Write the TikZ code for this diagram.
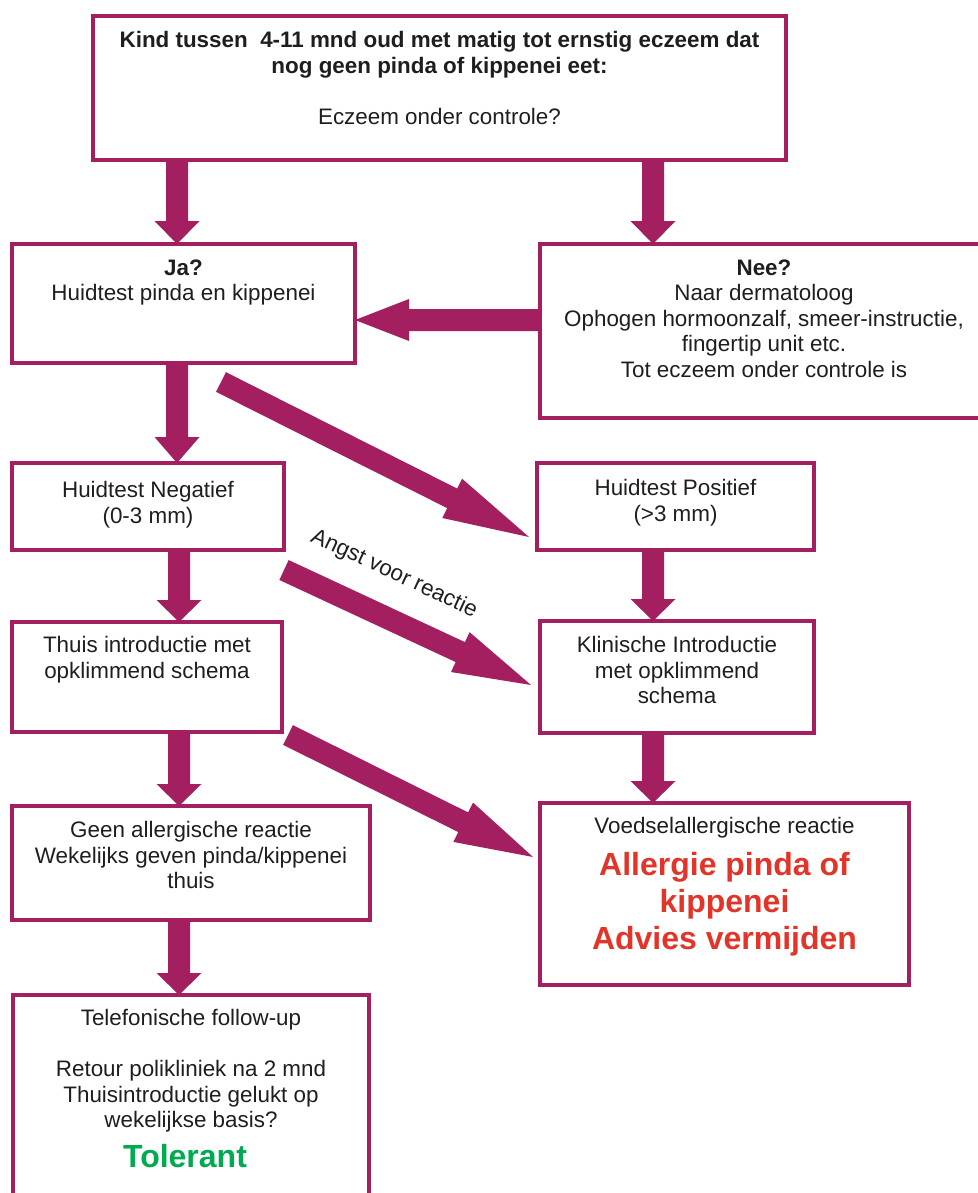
\documentclass[tikz,border=0pt]{standalone}
\usepackage{fontspec}
\setmainfont{Liberation Sans}
\usetikzlibrary{calc}
\definecolor{maroon}{RGB}{163,31,96}
\definecolor{redtxt}{RGB}{226,52,40}
\definecolor{greentxt}{RGB}{0,170,80}
\definecolor{txtcol}{RGB}{30,30,30}
\newcommand{\blockarr}[5]{%
  \coordinate (bA) at (#1);
  \coordinate (bB) at (#2);
  \coordinate (bP) at ($(bB)!#5!(bA)$);
  \fill[arrowfill] ($(bA)!#3!90:(bB)$) -- ($(bP)!#3!90:(bB)$) -- ($(bP)!#4!90:(bB)$) -- (bB)
    -- ($(bP)!#4!-90:(bB)$) -- ($(bP)!#3!-90:(bB)$) -- ($(bA)!#3!-90:(bB)$) -- cycle;
}
\begin{document}
\begin{tikzpicture}[x=0.5pt, y=-0.5pt,
  box/.style={draw=maroon, line width=2pt, inner sep=0pt, outer sep=0pt},
  arrowfill/.style={fill=maroon},
  txtnode/.style={font=\fontsize{11.2pt}{12.75pt}\selectfont, align=center, inner sep=0pt, text=txtcol},
  bigred/.style={font=\fontsize{16pt}{18.5pt}\selectfont\bfseries, align=center, inner sep=0pt, text=redtxt},
  biggreen/.style={font=\fontsize{16pt}{18.5pt}\selectfont\bfseries, inner sep=0pt, text=greentxt}]
\useasboundingbox (0,0) rectangle (978,1193);
\clip (0,0) rectangle (978,1193);

% boxes
\node[box, minimum width=346.5pt, minimum height=72pt] (top) at (439.5,88) {};
\node[box, minimum width=171.5pt, minimum height=59.5pt] (ja) at (183.5,303.5) {};
\node[box, minimum width=224pt, minimum height=87pt] (nee) at (764,331) {};
\node[box, minimum width=136pt, minimum height=43.5pt] (neg) at (148,506.5) {};
\node[box, minimum width=138.5pt, minimum height=43.5pt] (pos) at (675.5,506.5) {};
\node[box, minimum width=135pt, minimum height=55pt] (thuis) at (147,677) {};
\node[box, minimum width=137pt, minimum height=56pt] (klin) at (677,677) {};
\node[box, minimum width=179pt, minimum height=57pt] (geen) at (191,863) {};
\node[box, minimum width=184.5pt, minimum height=91pt] (voed) at (724.5,894) {};
\node[box, minimum width=178pt, minimum height=107.5pt] (tel) at (191,1102.5) {};

% texts
\node[txtnode, anchor=north] (toptxt) at (439.5,31)
  {\textbf{Kind tussen\ \ 4-11 mnd oud met matig tot ernstig eczeem dat}\\
   \textbf{nog geen pinda of kippenei eet:}\\[12.75pt]
   Eczeem onder controle?};
\node[txtnode, anchor=north] (jatxt) at (183.5,259)
  {\textbf{Ja?}\\Huidtest pinda en kippenei};
\node[txtnode, anchor=north] (neetxt) at (764,259)
  {\textbf{Nee?}\\Naar dermatoloog\\Ophogen hormoonzalf, smeer-instructie,\\fingertip unit etc.\\Tot eczeem onder controle is};
\node[txtnode, anchor=north] (negtxt) at (148,481)
  {Huidtest Negatief\\(0-3 mm)};
\node[txtnode, anchor=north] (postxt) at (675.5,479)
  {Huidtest Positief\\(>3 mm)};
\node[txtnode, anchor=north] (thuistxt) at (147,636)
  {Thuis introductie met\\opklimmend schema};
\node[txtnode, anchor=north] (klintxt) at (677,636)
  {Klinische Introductie\\met opklimmend\\schema};
\node[txtnode, anchor=north] (geentxt) at (191,821)
  {Geen allergische reactie\\Wekelijks geven pinda/kippenei\\thuis};
\node[txtnode, anchor=base] (voedtxt) at (724.5,833) {Voedselallergische reactie};
\node[bigred, anchor=north] (allergie) at (724.5,852)
  {Allergie pinda of\\kippenei\\Advies vermijden};
\node[txtnode, anchor=north] (teltxt) at (191,1009)
  {Telefonische follow-up\\[12.75pt]
   Retour polikliniek na 2 mnd\\Thuisintroductie gelukt op\\wekelijkse basis?};
\node[biggreen, anchor=base] (tolerant) at (185,1167) {Tolerant};
\node[txtnode, rotate=-25] (angst) at (394,574) {Angst voor reactie};

% helper coordinates
\coordinate (colA) at (177,0);
\coordinate (colC) at (179,0);
\coordinate (colB) at (653,0);
\coordinate (rowH) at (0,320);
\coordinate (d1s) at (221,382);
\coordinate (d1e) at (529,537);
\coordinate (d2s) at (284,570);
\coordinate (d2e) at (531,685);
\coordinate (d3s) at (288,735);
\coordinate (d3e) at (533,857);

% arrows
\blockarr{top.south -| colA}{ja.north -| colA}{5.5pt}{11.25pt}{11.5pt}
\blockarr{top.south -| colB}{nee.north -| colB}{5.5pt}{11.25pt}{11.5pt}
\blockarr{nee.west |- rowH}{ja.east |- rowH}{5.5pt}{10.5pt}{27pt}
\blockarr{ja.south -| colA}{neg.north -| colA}{5.5pt}{11.25pt}{13pt}
\blockarr{d1s}{d1e}{5.5pt}{11pt}{43pt}
\blockarr{neg.south -| colC}{thuis.north -| colC}{5.5pt}{11.25pt}{11pt}
\blockarr{pos.south -| colB}{klin.north -| colB}{5.5pt}{11.25pt}{11pt}
\blockarr{d2s}{d2e}{5.5pt}{11pt}{39pt}
\blockarr{thuis.south -| colC}{geen.north -| colC}{5.5pt}{11.25pt}{11pt}
\blockarr{klin.south -| colB}{voed.north -| colB}{5.5pt}{11.25pt}{11pt}
\blockarr{d3s}{d3e}{5.5pt}{11pt}{39pt}
\blockarr{geen.south -| colC}{tel.north -| colC}{5.5pt}{11.25pt}{11pt}
\end{tikzpicture}
\end{document}
